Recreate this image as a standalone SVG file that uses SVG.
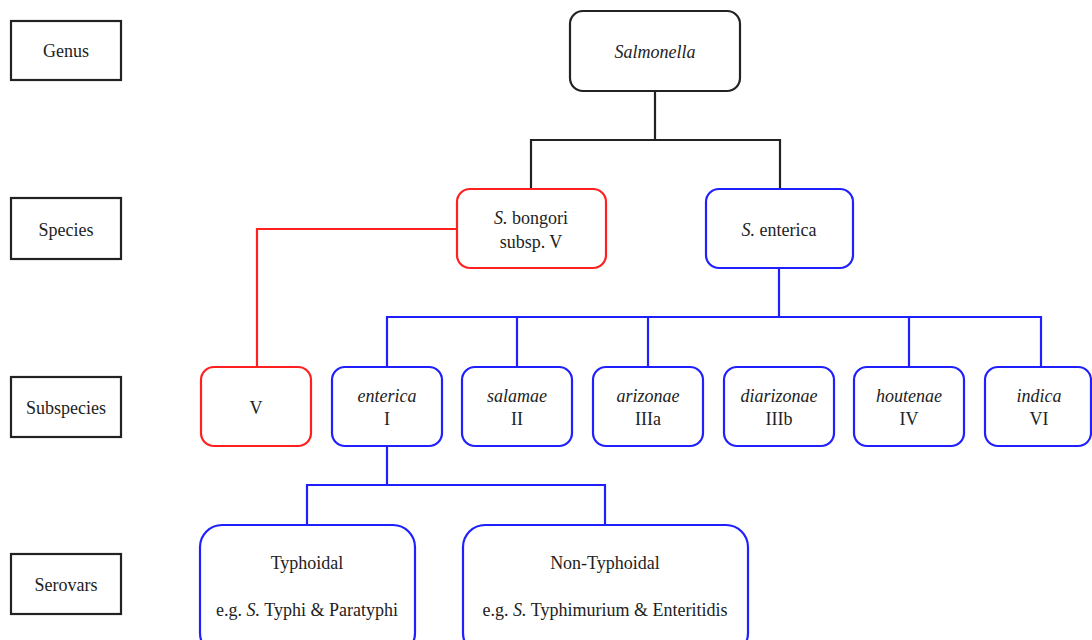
<svg xmlns="http://www.w3.org/2000/svg" width="1092" height="640" viewBox="0 0 1092 640" font-family="'Liberation Serif', 'DejaVu Serif', serif">
<style>
text{font-family:'Liberation Serif','DejaVu Serif',serif;font-size:18px;fill:#222;text-anchor:middle;dominant-baseline:central}
.lab{fill:#fff;stroke:#222;stroke-width:2.2}
.k{fill:#fff;stroke:#222;stroke-width:2.2}
.r{fill:#fff;stroke:#ff2020;stroke-width:2.2}
.b{fill:#fff;stroke:#2020ff;stroke-width:2.2}
.ck{fill:none;stroke:#222;stroke-width:2.2}
.cr{fill:none;stroke:#ff2020;stroke-width:2.2}
.cb{fill:none;stroke:#2020ff;stroke-width:2.2}
</style>
<rect width="1092" height="640" fill="#fff"/>
<g id="connectors">
<path class="ck" d="M655 91V140M531 188V140H780V188"/>
<path class="cr" d="M457 229H257V367"/>
<path class="cb" d="M779 268V317M387 367V317H1041V367M517 317V367M648 317V367M909 317V367"/>
<path class="cb" d="M387 446V485M307 525V485H605V525"/>
</g>
<g id="label-genus"><rect class="lab" x="11" y="21" width="110" height="59"/><text x="66" y="51">Genus</text></g>
<g id="label-species"><rect class="lab" x="11" y="198" width="110" height="61"/><text x="66" y="230">Species</text></g>
<g id="label-subspecies"><rect class="lab" x="11" y="377" width="110" height="60"/><text x="66" y="408">Subspecies</text></g>
<g id="label-serovars"><rect class="lab" x="11" y="554" width="110" height="60"/><text x="66" y="585">Serovars</text></g>
<g id="salmonella"><rect class="k" x="570" y="11" width="170" height="80" rx="13"/><text x="655" y="52" font-style="italic">Salmonella</text></g>
<g id="bongori"><rect class="r" x="457" y="189" width="149" height="79" rx="13"/><text x="531" y="218"><tspan font-style="italic">S.</tspan> bongori</text><text x="531" y="242">subsp. V</text></g>
<g id="s-enterica"><rect class="b" x="706" y="189" width="147" height="79" rx="13"/><text x="779" y="230"><tspan font-style="italic">S.</tspan> enterica</text></g>
<g id="sub-V"><rect class="r" x="201" y="367" width="110" height="79" rx="13"/><text x="256" y="408">V</text></g>
<g id="sub-enterica"><rect class="b" x="332" y="367" width="110" height="79" rx="13"/><text x="387" y="396" font-style="italic">enterica</text><text x="387" y="419">I</text></g>
<g id="sub-salamae"><rect class="b" x="462" y="367" width="110" height="79" rx="13"/><text x="517" y="396" font-style="italic">salamae</text><text x="517" y="419">II</text></g>
<g id="sub-arizonae"><rect class="b" x="593" y="367" width="110" height="79" rx="13"/><text x="648" y="396" font-style="italic">arizonae</text><text x="648" y="419">IIIa</text></g>
<g id="sub-diarizonae"><rect class="b" x="724" y="367" width="110" height="79" rx="13"/><text x="779" y="396" font-style="italic">diarizonae</text><text x="779" y="419">IIIb</text></g>
<g id="sub-houtenae"><rect class="b" x="854" y="367" width="110" height="79" rx="13"/><text x="909" y="396" font-style="italic">houtenae</text><text x="909" y="419">IV</text></g>
<g id="sub-indica"><rect class="b" x="985" y="367" width="106" height="79" rx="13"/><text x="1039" y="396" font-style="italic">indica</text><text x="1039" y="419">VI</text></g>
<g id="typhoidal"><rect class="b" x="200" y="525" width="215" height="130" rx="22"/><text x="307" y="563">Typhoidal</text><text x="307" y="610">e.g. <tspan font-style="italic">S.</tspan> Typhi &amp; Paratyphi</text></g>
<g id="non-typhoidal"><rect class="b" x="463" y="525" width="285" height="130" rx="22"/><text x="605" y="563">Non-Typhoidal</text><text x="605" y="610">e.g. <tspan font-style="italic">S.</tspan> Typhimurium &amp; Enteritidis</text></g>
</svg>
